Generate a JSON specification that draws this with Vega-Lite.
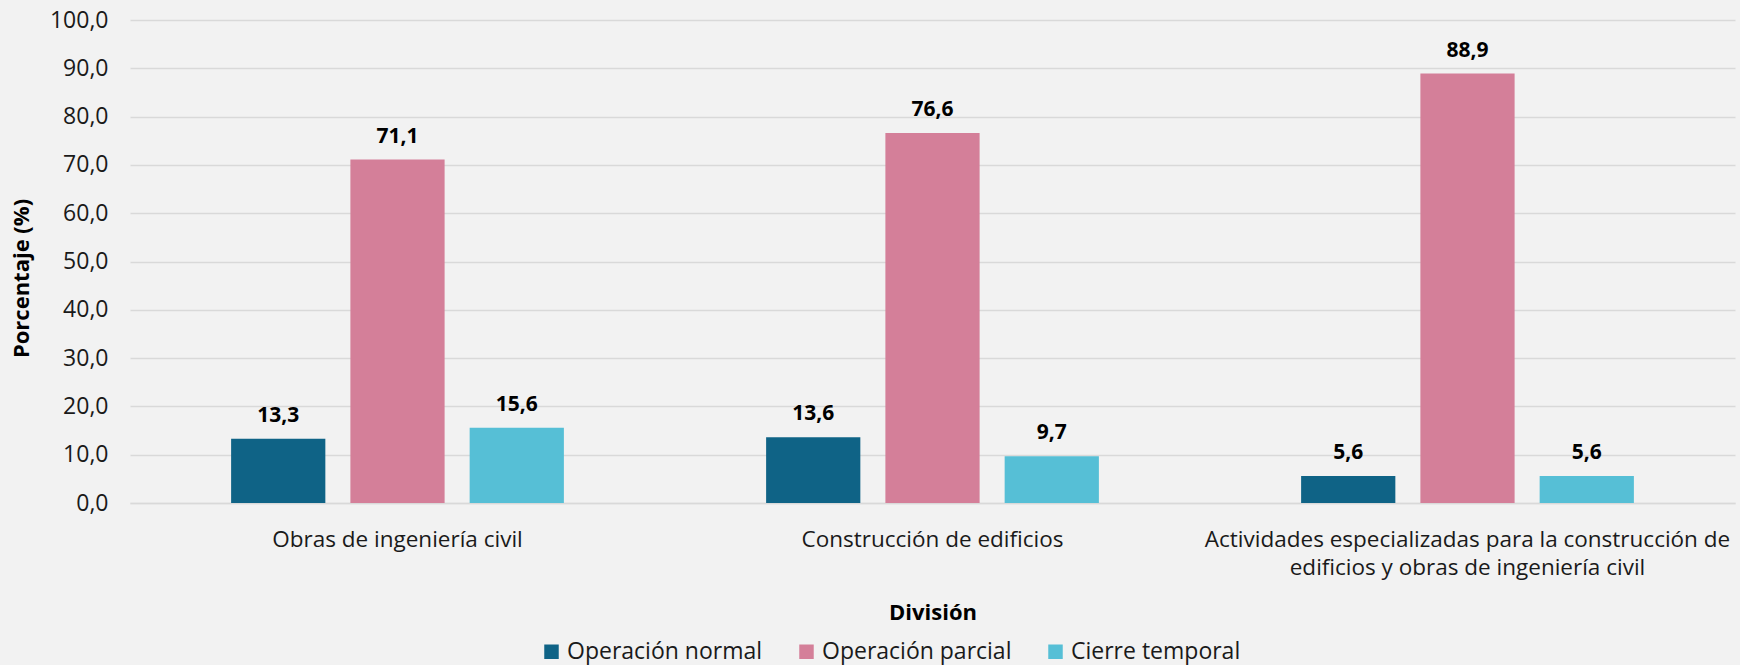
{
  "$schema": "https://vega.github.io/schema/vega-lite/v6.json",
  "width": 1605,
  "height": 483,
  "autosize": {"type": "none"},
  "padding": {"left": 130, "top": 20, "right": 5, "bottom": 162},
  "background": "#f2f2f2",
  "config": {
    "view": {"stroke": null},
    "font": "Open Sans",
    "locale": {"number": {"decimal": ",", "thousands": ".", "grouping": [3], "currency": ["", " €"]}}
  },
  "data": {
    "values": [
      {"division": "Obras de ingeniería civil", "estado": "Operación normal", "porcentaje": 13.3},
      {"division": "Obras de ingeniería civil", "estado": "Operación parcial", "porcentaje": 71.1},
      {"division": "Obras de ingeniería civil", "estado": "Cierre temporal", "porcentaje": 15.6},
      {"division": "Construcción de edificios", "estado": "Operación normal", "porcentaje": 13.6},
      {"division": "Construcción de edificios", "estado": "Operación parcial", "porcentaje": 76.6},
      {"division": "Construcción de edificios", "estado": "Cierre temporal", "porcentaje": 9.7},
      {"division": "Actividades especializadas para la construcción de edificios y obras de ingeniería civil", "estado": "Operación normal", "porcentaje": 5.6},
      {"division": "Actividades especializadas para la construcción de edificios y obras de ingeniería civil", "estado": "Operación parcial", "porcentaje": 88.9},
      {"division": "Actividades especializadas para la construcción de edificios y obras de ingeniería civil", "estado": "Cierre temporal", "porcentaje": 5.6}
    ]
  },
  "encoding": {
    "x": {
      "field": "division",
      "type": "nominal",
      "sort": ["Obras de ingeniería civil", "Construcción de edificios", "Actividades especializadas para la construcción de edificios y obras de ingeniería civil"],
      "scale": {"paddingInner": 0.378, "paddingOuter": 0.189},
      "axis": {
        "title": "División",
        "titleFontSize": 22,
        "titleFontWeight": "bold",
        "titleColor": "#000000",
        "titlePadding": 24,
        "labelAngle": 0,
        "labelFontSize": 22.5,
        "labelColor": "#1a1a1a",
        "labelPadding": 25,
        "labelLimit": 800,
        "labelLineHeight": 28,
        "labelExpr": "datum.label == 'Actividades especializadas para la construcción de edificios y obras de ingeniería civil' ? ['Actividades especializadas para la construcción de', 'edificios y obras de ingeniería civil'] : datum.label",
        "ticks": false,
        "domain": true,
        "domainColor": "#d9d9d9",
        "domainWidth": 1.5
      }
    },
    "xOffset": {
      "field": "estado",
      "type": "nominal",
      "sort": ["Operación normal", "Operación parcial", "Cierre temporal"],
      "scale": {"paddingInner": 0.21, "paddingOuter": 0}
    },
    "y": {
      "field": "porcentaje",
      "type": "quantitative",
      "scale": {"domain": [0, 100]},
      "axis": {
        "title": "Porcentaje (%)",
        "titleFontSize": 22,
        "titleFontWeight": "bold",
        "titleColor": "#000000",
        "titlePadding": 16,
        "titleY": 258,
        "values": [0, 10, 20, 30, 40, 50, 60, 70, 80, 90, 100],
        "format": ".1f",
        "labelFontSize": 23,
        "labelColor": "#1a1a1a",
        "labelPadding": 22,
        "ticks": false,
        "domain": false,
        "grid": true,
        "gridColor": "#d9d9d9",
        "gridWidth": 1.3
      }
    }
  },
  "layer": [
    {
      "mark": {"type": "bar"},
      "encoding": {
        "color": {
          "field": "estado",
          "type": "nominal",
          "sort": ["Operación normal", "Operación parcial", "Cierre temporal"],
          "scale": {"domain": ["Operación normal", "Operación parcial", "Cierre temporal"], "range": ["#0f6386", "#d47f99", "#56bfd6"]},
          "legend": {
            "title": null,
            "orient": "none",
            "direction": "horizontal",
            "legendX": 410,
            "legendY": 620,
            "symbolType": "square",
            "symbolSize": 210,
            "symbolStrokeWidth": 0,
            "labelFontSize": 23,
            "labelLimit": 400,
            "labelColor": "#1a1a1a",
            "labelOffset": 4,
            "columnPadding": 32
          }
        }
      }
    },
    {
      "mark": {"type": "text", "baseline": "bottom", "dy": -13, "fontWeight": "bold", "fontSize": 21, "color": "#000000"},
      "encoding": {
        "text": {"field": "porcentaje", "type": "quantitative", "format": ".1f"}
      }
    }
  ]
}
